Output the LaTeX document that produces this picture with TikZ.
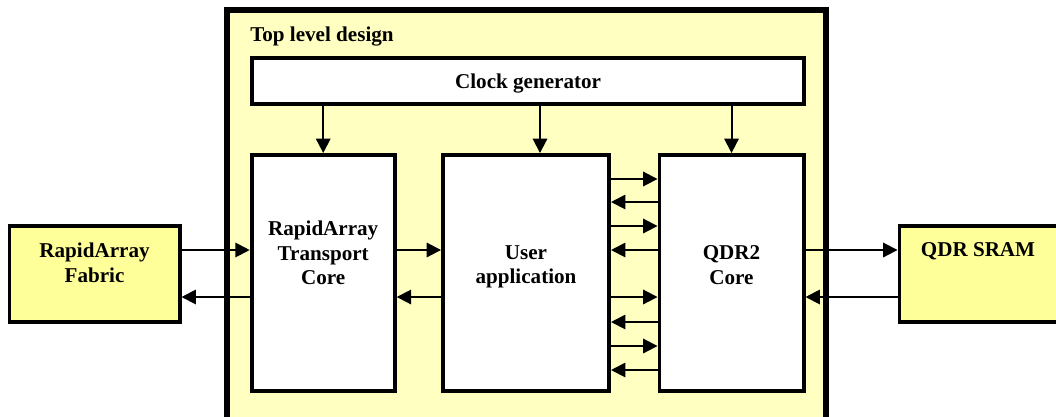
\documentclass[tikz,border=0pt]{standalone}
\usepackage{fontspec}
\setmainfont{Liberation Serif}
\usetikzlibrary{arrows.meta,positioning,calc}
\definecolor{paleyellow}{HTML}{FFFFC2}
\definecolor{boxyellow}{HTML}{FFFF99}

\begin{document}
\begin{tikzpicture}[
			x=0.025cm, y=-0.025cm,
			blk/.style={draw=black,line width=2.8pt,fill=white,anchor=north west,inner sep=0pt,outer sep=0pt},
			ext/.style={blk,fill=boxyellow},
			lbl/.style={font=\bfseries\fontsize{15}{17.4}\selectfont,align=center,inner sep=0pt},
			arr/.style={draw=black,line width=1.4pt,shorten >=1.4pt,-{Triangle[length=0.36cm,width=0.36cm]}}
			]
			\clip (0,0) rectangle (1056,416);
			\useasboundingbox (0,0) rectangle (1056,416);
			% outer design box
			\node[blk,fill=paleyellow,line width=4pt,minimum width=14.975cm,minimum height=10.6cm] (top) at (227,10) {};
			\node[lbl,anchor=west] (toplbl) at (250,37) {Top level design};
			% blocks
			\node[blk,minimum width=13.8cm,minimum height=1.15cm,label={[lbl,yshift=-0.05cm]center:Clock generator}] (clk) at (252,58) {};
			\node[blk,minimum width=3.575cm,minimum height=5.9cm,label={[lbl,yshift=0.5cm]center:RapidArray\\Transport\\Core}] (rat) at (251.7,155) {};
			\node[blk,minimum width=4.15cm,minimum height=5.9cm,label={[lbl,yshift=0.16cm]center:User\\application}] (usr) at (443,155) {};
			\node[blk,minimum width=3.6cm,minimum height=5.9cm,label={[lbl,yshift=0.2cm]center:QDR2\\Core}] (qdr) at (659.5,155) {};
			\node[ext,minimum width=4.25cm,minimum height=2.4cm,label={[lbl,yshift=0.28cm]center:RapidArray\\Fabric}] (fab) at (9.5,226) {};
			\node[ext,minimum width=4.6cm,minimum height=2.4cm] (sram) at (899.5,226) {};
			\node[lbl] (sramlbl) at (978,251) {QDR SRAM};
			% rows
			\coordinate (ck) at (540,0);
			\coordinate (ra) at (0,250);
			\coordinate (rb) at (0,297);
			% clock lines
			\draw[arr] (clk.south -| rat.north) -- (rat.north);
			\draw[arr] (clk.south -| ck) -- (usr.north -| ck);
			\draw[arr] (clk.south -| qdr.north) -- (qdr.north);
			% data paths
			\draw[arr] (fab.east |- ra) -- (rat.west |- ra);
			\draw[arr] (rat.west |- rb) -- (fab.east |- rb);
			\draw[arr] (rat.east |- ra) -- (usr.west |- ra);
			\draw[arr] (usr.west |- rb) -- (rat.east |- rb);
			\draw[arr] (qdr.east |- ra) -- (sram.west |- ra);
			\draw[arr] (sram.west |- rb) -- (qdr.east |- rb);
			\foreach \yy in {179,226,297,346}
				\draw[arr] (usr.east |- 0,\yy) -- (qdr.west |- 0,\yy);
			\foreach \yy in {202,250,322,370}
				\draw[arr] (qdr.west |- 0,\yy) -- (usr.east |- 0,\yy);
		\end{tikzpicture}
\end{document}
